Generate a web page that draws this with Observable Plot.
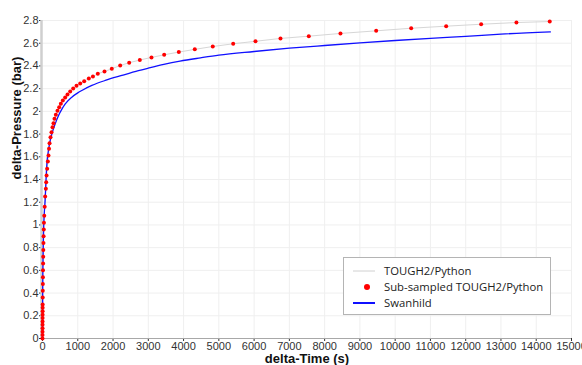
<!DOCTYPE html>
<html>
<head>
<meta charset="utf-8">
<script src="https://cdn.jsdelivr.net/npm/d3@7"></script>
<script src="https://cdn.jsdelivr.net/npm/@observablehq/plot@0.6"></script>
<style>
  html, body { margin: 0; padding: 0; background: #fff; }
  #wrap { position: relative; width: 582px; height: 365px; overflow: hidden; }
  #legend { position: absolute; left: 343px; top: 257px; width: 206px; height: 56px;
    border: 1px solid #b4b4b4; background: #fff; font-family: "Open Sans", sans-serif;
    font-size: 11.3px; color: #222; }
  .row { position: absolute; left: 0; height: 16px; width: 100%; }
  .row svg { position: absolute; left: 8px; top: 0; }
  .row span { position: absolute; left: 40px; top: 0; line-height: 16px; white-space: nowrap; }
</style>
</head>
<body>
<div id="wrap">
  <div id="chart"></div>
  <div id="legend"></div>
</div>
<script>
const xTicks = [0,1000,2000,3000,4000,5000,6000,7000,8000,9000,10000,11000,12000,13000,14000,15000];
const yTicks = [0,0.2,0.4,0.6,0.8,1,1.2,1.4,1.6,1.8,2,2.2,2.4,2.6,2.8];

const seriesNames = ["TOUGH2/Python", "Sub-sampled TOUGH2/Python", "Swanhild"];

// TOUGH2/Python (sub-sampled points, also used for the full line)
const toughTime = [0,0.3,0.6,1,1.4,1.8,2.3,2.8,3.4,4,5,6,8,10,12,14,17,20,23,27,31,36,41,
  50,62,75,95,105,115,132,151,170,185,200,227,255,284,312,340,378,425,473,520,576,643,709,785,870,964,1069,1182,1313,1430,1568,1758,1965,2203,2458,
  2760,3090,3450,3865,4318,4828,5407,6039,6748,7551,8449,9461,10454,11446,12438,13439,14383];
const toughPressure = [0,0.03,0.06,0.09,0.12,0.15,0.18,0.21,0.24,0.27,0.30,0.36,0.42,0.48,0.54,0.60,0.66,0.72,0.78,0.84,0.90,0.96,1.02,
  1.08,1.16,1.25,1.318,1.376,1.435,1.494,1.558,1.611,1.670,1.720,1.773,1.817,1.861,1.896,1.934,1.970,2.005,2.037,2.066,2.096,2.122,2.148,2.175,2.201,2.225,2.245,2.266,2.289,2.307,2.331,2.351,2.375,2.404,2.428,
  2.452,2.475,2.498,2.522,2.546,2.571,2.595,2.617,2.642,2.662,2.686,2.709,2.732,2.750,2.767,2.782,2.791];

// Swanhild
const swanTime = [0,5,15,30,50,75,100,125,170,220,265,360,455,550,645,830,1000,1115,1400,1780,2250,2720,3000,3440,3900,4480,5000,6000,7000,8000,9000,10000,11000,12000,13000,14400];
const swanPressure = [0,0.4,0.7,0.95,1.1,1.22,1.4,1.54,1.66,1.745,1.80,1.89,1.964,2.02,2.066,2.125,2.163,2.184,2.228,2.272,2.316,2.358,2.38,2.413,2.442,2.471,2.495,2.527,2.556,2.58,2.603,2.624,2.643,2.66,2.68,2.70];

const tough = toughTime.map((t, i) => ({t, p: toughPressure[i]}));
const swan = swanTime.map((t, i) => ({t, p: swanPressure[i]}));

const fmtY = d => String(+d.toFixed(1));

const chart = Plot.plot({
  width: 582,
  height: 365,
  marginLeft: 42,
  marginRight: 11,
  marginTop: 20,
  marginBottom: 27,
  style: { fontFamily: "'Liberation Sans', Arial, sans-serif", fontSize: "11px", color: "#333", background: "#fff" },
  x: { domain: [0, 15000], ticks: xTicks, tickFormat: d => String(d), tickSize: 3, tickPadding: 1, label: null },
  y: { domain: [0, 2.8], ticks: yTicks, tickFormat: fmtY, tickSize: 3, tickPadding: 1, label: null },
  marks: [
    Plot.ruleX(xTicks.slice(1), { stroke: "#efefef", strokeWidth: 1 }),
    Plot.ruleY(yTicks.slice(1), { stroke: "#efefef", strokeWidth: 1 }),
    Plot.ruleY([0], { stroke: "#a8a8a8", strokeWidth: 1 }),
    Plot.ruleX([0], { stroke: "#cfcfcf", strokeWidth: 2.5, dx: -1 }),
    Plot.line(tough, { x: "t", y: "p", stroke: "#d6d6d6", strokeWidth: 1 }),
    Plot.line(swan, { x: "t", y: "p", stroke: "#1010ff", strokeWidth: 1.3, curve: "monotone-x" }),
    Plot.dot(tough, { x: "t", y: "p", r: 2, fill: "#ff0000", stroke: "none" }),
    Plot.text(["delta-Pressure (bar)"], { frameAnchor: "left", text: d => d, dx: -26, rotate: -90,
      fontWeight: "bold", fontSize: 13, fill: "#111" }),
    Plot.text(["delta-Time (s)"], { frameAnchor: "bottom", text: d => d, dy: 24,
      fontWeight: "bold", fontSize: 13, fill: "#111" })
  ]
});
document.getElementById("chart").appendChild(chart);

// Legend
const legend = document.getElementById("legend");
const swatches = [
  '<svg width="24" height="16"><line x1="1" x2="23" y1="8" y2="8" stroke="#d0d0d0" stroke-width="1"/></svg>',
  '<svg width="24" height="16"><circle cx="15" cy="8" r="3" fill="#ff0000"/></svg>',
  '<svg width="24" height="16"><line x1="1" x2="23" y1="8" y2="8" stroke="#1010ff" stroke-width="2"/></svg>'
];
seriesNames.forEach((name, i) => {
  const row = document.createElement("div");
  row.className = "row";
  row.style.top = (5 + i * 16) + "px";
  row.innerHTML = swatches[i] + "<span></span>";
  row.querySelector("span").textContent = name;
  legend.appendChild(row);
});
</script>
</body>
</html>
